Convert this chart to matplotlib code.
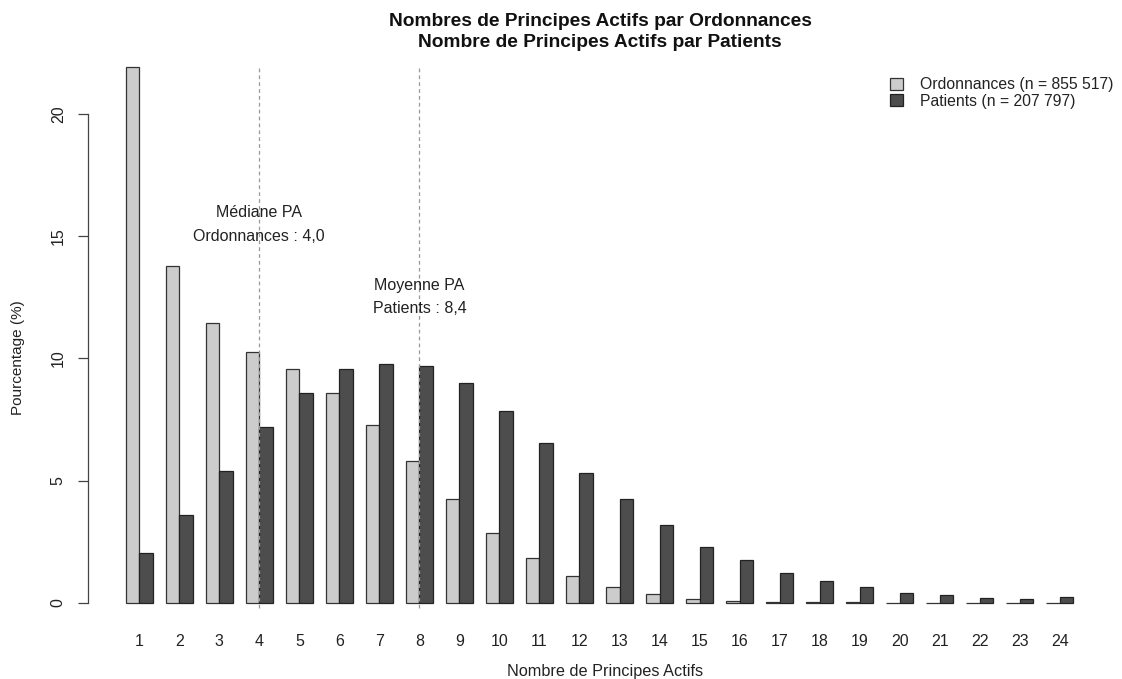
import matplotlib
matplotlib.use("Agg")
import matplotlib.pyplot as plt
from matplotlib.patches import Patch
import numpy as np

plt.rcParams['font.family'] = ['Liberation Sans', 'DejaVu Sans']

# ---- data ----
categories = list(range(1, 25))
ordonnances = [21.93, 13.80, 11.45, 10.25, 9.56, 8.60, 7.27, 5.81, 4.27, 2.88,
               1.84, 1.12, 0.65, 0.35, 0.18, 0.10, 0.05, 0.03, 0.02, 0.01,
               0.01, 0.005, 0.003, 0.003]
patients = [2.05, 3.59, 5.38, 7.20, 8.58, 9.58, 9.79, 9.69, 9.00, 7.85,
            6.56, 5.33, 4.24, 3.20, 2.30, 1.75, 1.21, 0.90, 0.65, 0.42,
            0.31, 0.20, 0.15, 0.26]
series_labels = ["Ordonnances (n = 855 517)", "Patients (n = 207 797)"]
title_lines = ["Nombres de Principes Actifs par Ordonnances",
               "Nombre de Principes Actifs par Patients"]
median_ord = 4
mean_pat = 8
median_text = ["Médiane PA", "Ordonnances : 4,0"]
mean_text = ["Moyenne PA", "Patients : 8,4"]
yticks = [0, 5, 10, 15, 20]

W, H = 1122, 679
fig = plt.figure(figsize=(W / 100, H / 100), dpi=100)

# axes region in pixels (R-like plot region)
left_px, right_px = 88, 1111
top_px, bottom_px = 45.3, 624.4
ax = fig.add_axes([left_px / W, 1 - bottom_px / H,
                   (right_px - left_px) / W, (bottom_px - top_px) / H])

x = np.array(categories, dtype=float)
bw = 1 / 3
c_ord = "#CCCCCC"
c_pat = "#4D4D4D"
ax.bar(x - bw / 2, ordonnances, width=bw, color=c_ord, edgecolor="#333333", linewidth=0.9)
ax.bar(x + bw / 2, patients, width=bw, color=c_pat, edgecolor="#222222", linewidth=0.9)

lo, hi = x[0] - bw, x[-1] + bw
ext = 0.04 * (hi - lo)
ax.set_xlim(lo - ext, hi + ext)
ymax = max(ordonnances)
ax.set_ylim(-0.04 * ymax, ymax * 1.04)

# dashed reference lines
for v in (median_ord, mean_pat):
    ax.vlines(v, -0.2, 22.0, colors="#9A9A9A", linestyles=(0, (3, 2.5)), linewidth=0.9, zorder=3)

# annotations
ax.text(median_ord, 15.95, median_text[0], ha="center", va="center", fontsize=11.5, color="#222222")
ax.text(median_ord, 15.0, median_text[1], ha="center", va="center", fontsize=11.5, color="#222222")
ax.text(mean_pat, 12.98, mean_text[0], ha="center", va="center", fontsize=11.5, color="#222222")
ax.text(mean_pat, 12.05, mean_text[1], ha="center", va="center", fontsize=11.5, color="#222222")

# axes styling
for s in ("top", "right", "bottom"):
    ax.spines[s].set_visible(False)
ax.spines["left"].set_bounds(0, 20)
ax.spines["left"].set_color("#444444")
ax.spines["left"].set_linewidth(0.9)
ax.set_yticks(yticks)
ax.set_yticklabels([str(t) for t in yticks], rotation=90, va="center", fontsize=11.5, color="#222222")
ax.tick_params(axis="y", length=7, width=0.9, color="#444444", pad=9)
ax.set_xticks(x)
ax.set_xticklabels([str(c) for c in categories], fontsize=11.5, color="#222222")
ax.tick_params(axis="x", length=0, pad=7)

# axis labels
fig.text(18.3 / W, 1 - 358 / H, "Pourcentage (%)", rotation=90, ha="center", va="center",
         fontsize=11, color="#222222")
fig.text(605 / W, 1 - 671.5 / H, "Nombre de Principes Actifs",
         ha="center", va="center", fontsize=11.7, color="#222222")

# title
fig.text(600 / W, 1 - 25.7 / H, title_lines[0], ha="center", va="baseline",
         fontsize=13.8, fontweight="bold", color="#111111")
fig.text(600 / W, 1 - 46.7 / H, title_lines[1], ha="center", va="baseline",
         fontsize=13.8, fontweight="bold", color="#111111")

# legend
handles = [Patch(facecolor=c_ord, edgecolor="#333333", linewidth=0.9),
           Patch(facecolor=c_pat, edgecolor="#222222", linewidth=0.9)]
leg = fig.legend(handles, series_labels, loc="upper left",
                 bbox_to_anchor=(887 / W, 1 - 74 / H), frameon=False,
                 fontsize=11.3, handlelength=0.8, handleheight=0.8,
                 handletextpad=1.1, labelspacing=0.1, borderpad=0.2,
                 borderaxespad=0)
for t in leg.get_texts():
    t.set_color("#222222")

fig.savefig("out.png", dpi=100)
